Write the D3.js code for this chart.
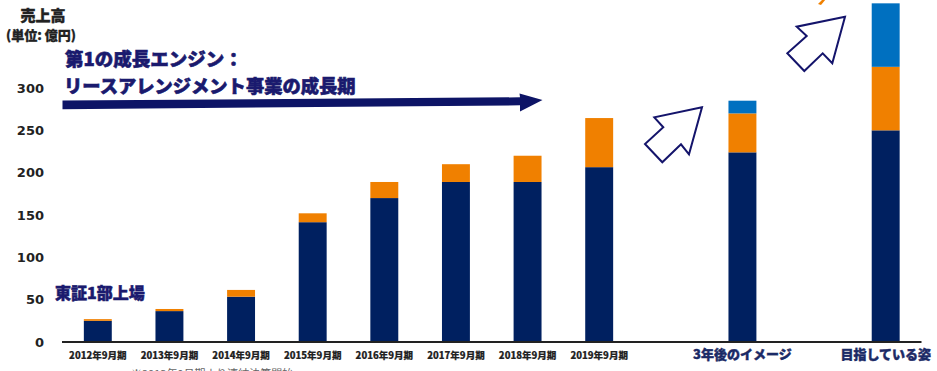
<!DOCTYPE html>
<html><head><meta charset="utf-8">
<script src="https://cdn.jsdelivr.net/npm/d3@7"></script>
<style>
html,body{margin:0;padding:0;background:#fff;}
svg{display:block;}
</style></head>
<body>
<svg id="chart" width="937" height="371"></svg>
<script>
// ---- data ----
const categories = ["2012年9月期","2013年9月期","2014年9月期","2015年9月期","2016年9月期","2017年9月期","2018年9月期","2019年9月期","3年後のイメージ","目指している姿"];
const slots = ["2012年9月期","2013年9月期","2014年9月期","2015年9月期","2016年9月期","2017年9月期","2018年9月期","2019年9月期","gap1","3年後のイメージ","gap2","目指している姿"];
const coreSales   = [25, 36.5, 53.5, 141.5, 170, 189, 189, 206.5, 224, 250];
const secondSales = [2, 2.5, 8, 10.5, 19, 21, 31, 58, 46, 75];
const thirdSales  = [0, 0, 0, 0, 0, 0, 0, 0, 15, 75];
const yTicks = [0, 50, 100, 150, 200, 250, 300];
const futureCats = ["3年後のイメージ","目指している姿"];

const colors = ["#002060", "#f08000", "#0070c0"];
const navyText = "#1a1a6e";

const svg = d3.select("#chart");
svg.append("rect").attr("width",937).attr("height",371).attr("fill","#fff");

const x = d3.scaleBand().domain(slots).range([62, 921.5]).paddingInner(0.61).paddingOuter(0.305);
const y = d3.scaleLinear().domain([0, 300]).range([342, 88]);

const stackData = categories.map((c,i)=>({cat:c, a:coreSales[i], b:secondSales[i], c:thirdSales[i]}));
const series = d3.stack().keys(["a","b","c"])(stackData);

svg.append("g").selectAll("g").data(series).join("g")
  .attr("fill",(d,i)=>colors[i])
  .selectAll("rect").data(d=>d.filter(p=>p[1]>p[0])).join("rect")
  .attr("x",d=>x(d.data.cat))
  .attr("width",x.bandwidth())
  .attr("y",d=>y(d[1]))
  .attr("height",d=>y(d[0])-y(d[1]));

// axis line
svg.append("line").attr("x1",x.range()[0]).attr("x2",x.range()[1])
  .attr("y1",y(0)).attr("y2",y(0)).attr("stroke","#222").attr("stroke-width",2);

// y tick labels
const yAxis = d3.axisLeft(y).tickValues(yTicks).tickSize(0).tickPadding(0);
const ya = svg.append("g").attr("transform","translate(44,0)").call(yAxis);
ya.select(".domain").remove();
ya.selectAll("text").attr("font-family","'DejaVu Sans',sans-serif").attr("font-weight","bold")
  .attr("font-size","13px").attr("fill","#222");

// x labels
const jp = "'Noto Sans CJK JP',sans-serif";
const xAxis = d3.axisBottom(x).tickValues(categories).tickSize(0).tickPadding(0);
const xa = svg.append("g").attr("transform",`translate(0,${y(0)+10})`).call(xAxis);
xa.select(".domain").remove();
xa.selectAll("text")
  .attr("font-family",jp).attr("font-weight","900")
  .attr("font-size",d=>futureCats.includes(d)?"13px":"9.5px")
  .attr("fill",d=>futureCats.includes(d)?"#1b2a66":"#222")
  .attr("stroke",d=>futureCats.includes(d)?"#1b2a66":"#222")
  .attr("stroke-width",d=>futureCats.includes(d)?0.4:0.2)
  .attr("dy",d=>futureCats.includes(d)?"0.55em":"0.75em");

// titles
function label(xp, yp, txt, size, fill, anchor, sw){
  svg.append("text").attr("x",xp).attr("y",yp).attr("text-anchor",anchor||"start")
    .attr("font-family",jp).attr("font-weight","900").attr("font-size",size+"px")
    .attr("fill",fill).attr("stroke",fill).attr("stroke-width",sw).text(txt);
}
label(43, 21, "売上高", 15, "#222", "middle", 0.4);
label(41, 40, "(単位: 億円)", 13, "#222", "middle", 0.3);
label(65, 66, "第1の成長エンジン：", 18.5, navyText, "start", 0.6);
label(64, 93, "リースアレンジメント事業の成長期", 18.3, navyText, "start", 0.6);
label(55, 299, "東証1部上場", 16, navyText, "start", 0.5);

// footnote (cut off at the bottom edge, as in the reference)
svg.append("text").attr("x",131).attr("y",378)
  .attr("font-family",jp).attr("font-size","11px").attr("fill","#666").text("※2013年9月期より連結決算開始");

// big growth arrow
svg.append("path")
  .attr("d","M62.5,100.5 L520,97.3 L519.5,93.5 L542.5,100 L520,111.5 L520,105.3 L62.5,109.2 Z")
  .attr("fill","#0d1466");

// hollow arrows
const arrow1 = [[702,107.3],[654.3,117.3],[663.3,127.3],[645,144],[662.3,162.3],[681,144.3],[689,154.3]];
const arrow2 = [[845,16.7],[796.7,26.7],[806.7,36],[787.3,53.3],[804.3,71],[822.7,53.3],[832.3,63.3]];
[arrow1, arrow2].forEach(pts=>{
  svg.append("path").attr("d", d3.line()(pts)+"Z")
    .attr("fill","#fff").attr("stroke","#14146b").attr("stroke-width",2).attr("stroke-linejoin","miter");
});
// orange arrow fragment at top edge
svg.append("path").attr("d","M818,4 L823,-1 L826,-1 L821,5 Z").attr("fill","#f08000");
</script>
</body></html>
